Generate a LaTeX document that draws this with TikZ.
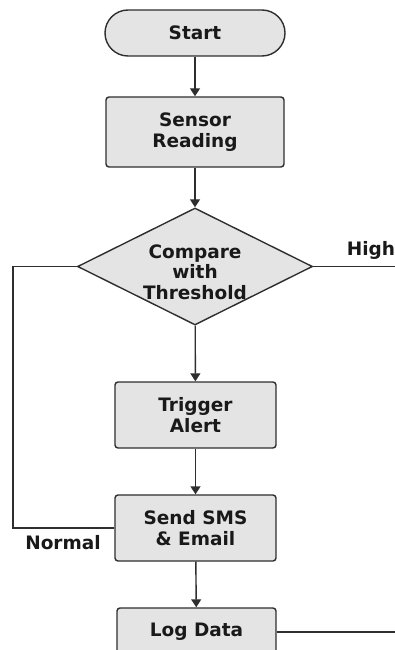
\documentclass[tikz,border=0pt]{standalone}
\usepackage{fontspec}
\setmainfont{DejaVu Sans}
\usetikzlibrary{arrows.meta,shapes.geometric}
\definecolor{boxfill}{HTML}{E4E4E4}
\definecolor{linec}{HTML}{2E2E2E}
\tikzset{
  x=1pt, y=1pt,
  every node/.style={font=\fontsize{18.5}{20.5}\selectfont\bfseries, text=black!90},
  procbox/.style={draw=linec, fill=boxfill, line width=1.4pt, rounded corners=3pt, align=center, inner sep=0pt},
  termbox/.style={draw=linec, fill=boxfill, line width=1.4pt, rounded corners=23pt, align=center, inner sep=0pt, minimum width=180pt, minimum height=46pt},
  decbox/.style={diamond, draw=linec, fill=boxfill, line width=1.4pt, inner sep=0pt, minimum width=235pt, minimum height=117pt},
  flow/.style={draw=linec, line width=1.4pt, -{Triangle[length=8pt,width=10pt]}},
  plain/.style={draw=linec, line width=1.4pt}
}
\begin{document}
\begin{tikzpicture}
\useasboundingbox (0,0) rectangle (395,-650);
\clip (0,0) rectangle (395,-650);
\node[termbox] (start) at (195,-33) {Start};
\node[procbox, minimum width=178pt, minimum height=70pt] (sensor) at (195,-132) {Sensor\\Reading};
\node[decbox] (cmp) at (195,-266.5) {};
\node[align=center, inner sep=0pt] (cmptext) at (195,-272) {Compare\\with\\Threshold};
\node[procbox, minimum width=161pt, minimum height=66pt] (trig) at (195.5,-415) {Trigger\\Alert};
\node[procbox, minimum width=161pt, minimum height=66pt] (send) at (195.5,-528) {Send SMS\\\&\ Email};
\node[procbox, minimum width=159pt, minimum height=48pt] (log) at (196.5,-632) {Log Data};
\coordinate (lcorner) at (13,-266.5);
\coordinate (hend) at (396,-266.5);
\coordinate (lend) at (396,-632);
\node (high) at (371,-250) {High};
\node (normal) at (63,-543) {Normal};
\draw[flow] (start) -- (sensor);
\draw[flow] (sensor) -- (cmp);
\draw[flow] (cmp) -- (trig);
\draw[flow] (trig) -- (send);
\draw[flow] (send) -- (log);
\draw[plain] (cmp.west) -- (lcorner) |- (send.west);
\draw[plain] (cmp.east) -- (hend);
\draw[plain] (log.east) -- (lend);
\end{tikzpicture}
\end{document}
